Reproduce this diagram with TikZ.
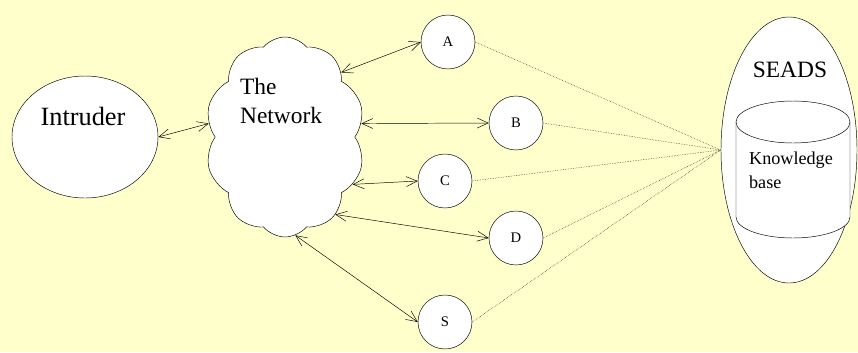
\documentclass[tikz,border=0pt]{standalone}
\usepackage{fontspec}
\setmainfont{Liberation Serif}
\usetikzlibrary{positioning, arrows.meta, shapes.geometric, shapes.symbols}
\definecolor{paleyellow}{RGB}{255,255,204}

\begin{document}
\begin{tikzpicture}[x=0.03cm, y=-0.03cm,
  host/.style={circle, draw, fill=white, minimum size=1.62cm, inner sep=0pt, font=\fontsize{12.5}{15}\selectfont}]
  \fill[paleyellow] (0,0) rectangle (858,352);
  \useasboundingbox (0,0) rectangle (858,352);
  \draw
    (85,137) node[ellipse, draw, fill=white, minimum width=4.38cm, minimum height=3.66cm] (intruder){}
    (285,137) node[cloud, cloud puffs=10, cloud puff arc=100, draw, fill=white, minimum width=4.8cm, minimum height=6cm] (network){}
    (789,150) node[ellipse, draw, fill=white, minimum width=4.08cm, minimum height=7.98cm] (seads){}
    (448,42) node[host] (A){A}
    (516,123) node[host] (B){B}
    (445,181) node[host] (C){C}
    (516,238) node[host] (D){D}
    (445,322) node[host] (S){S};
  % knowledge base drum
  \filldraw[fill=white] (736,122) -- (736,217) arc[start angle=180, end angle=0, x radius=57, y radius=21] -- (850,122);
  \filldraw[fill=white] (793,122) ellipse[x radius=57, y radius=21];
  \node[anchor=base, font=\fontsize{22.5}{27}\selectfont] (intrudertext) at (83,125) {Intruder};
  \node[anchor=base west, align=left, font=\fontsize{20}{24.6}\selectfont] (networktext) at (236,123) {The\\Network};
  \node[anchor=base, font=\fontsize{20}{24}\selectfont] (seadstext) at (790,77) {SEADS};
  \node[anchor=base west, align=left, font=\fontsize{15.5}{20}\selectfont] (kbtext) at (745,188) {Knowledge\\base};
  \begin{scope}[<->, >={Straight Barb[length=3.3mm, width=3mm]}]
    \draw (intruder.east) to (network.170);
    \draw (network.49) to (A.west);
    \draw (network.10) to (B.west);
    \draw (network.-35) to (C.west);
    \draw (network.-57) to (D.west);
    \draw (network.-84) to (S.west);
  \end{scope}
  \begin{scope}[densely dotted, thin]
    \draw (A.east) to (seads.west);
    \draw (B.east) to (seads.west);
    \draw (C.east) to (seads.west);
    \draw (D.east) to (seads.west);
    \draw (S.east) to (seads.west);
  \end{scope}
\end{tikzpicture}
\end{document}
